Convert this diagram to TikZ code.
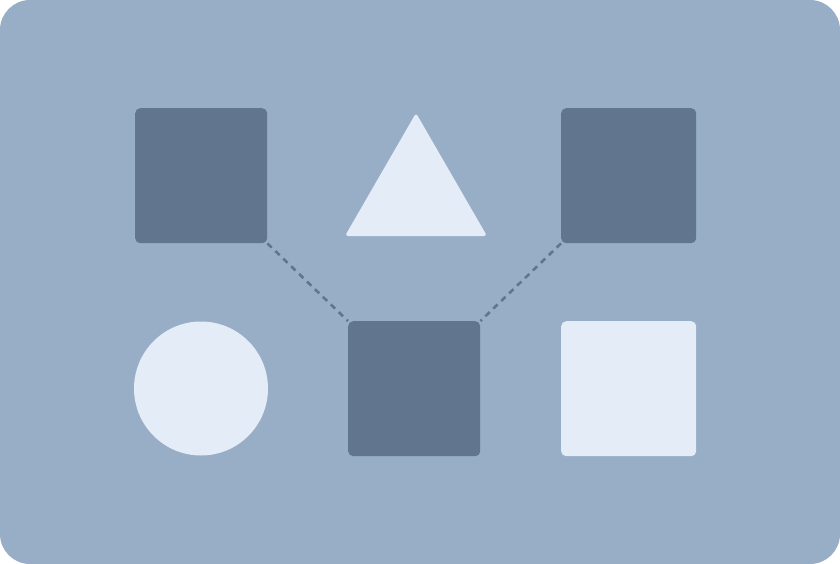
\documentclass[tikz,border=0pt]{standalone}
\usetikzlibrary{shapes.geometric}
\definecolor{bgc}{HTML}{98ADC6}
\definecolor{darkc}{HTML}{61758E}
\definecolor{lightc}{HTML}{E4ECF8}
\tikzset{
  darkbox/.style={rectangle, fill=darkc, rounded corners=5pt, inner sep=0pt, anchor=north west},
  lightbox/.style={rectangle, fill=lightc, rounded corners=5pt, inner sep=0pt, anchor=north west},
  conn/.style={draw=darkc, line width=2.6pt, dash pattern=on 6pt off 5pt},
}
\begin{document}
\begin{tikzpicture}[x=1pt,y=-1pt]
\fill[bgc, rounded corners=30pt] (0,0) rectangle (840,564);
\node[darkbox, minimum width=132pt, minimum height=135pt] (tl) at (135,108) {};
\node[darkbox, minimum width=135pt, minimum height=135pt] (tr) at (561,108) {};
\node[darkbox, minimum width=132pt, minimum height=135pt] (bm) at (348,321) {};
\node[lightbox, minimum width=135pt, minimum height=135pt] (br) at (561,321) {};
\node[circle, fill=lightc, inner sep=0pt, minimum size=134pt] (ci) at (201,388.5) {};
\node[regular polygon, regular polygon sides=3, fill=lightc, inner sep=0pt, minimum size=164pt, rounded corners=3pt] (tri) at (416,195) {};
\draw[conn] (tl.south east) -- (bm.north west);
\draw[conn] (tr.south west) -- (bm.north east);
\end{tikzpicture}
\end{document}
